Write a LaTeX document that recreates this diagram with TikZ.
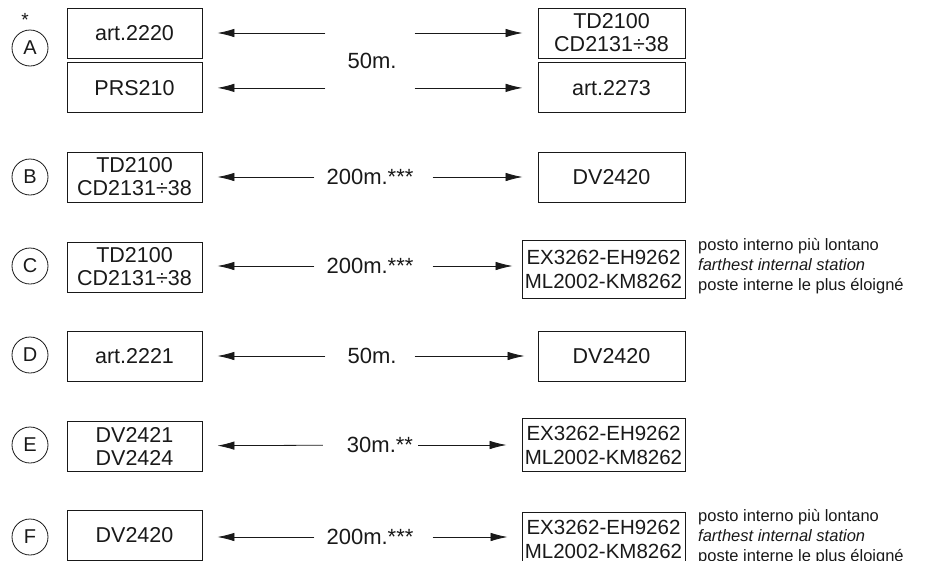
\documentclass[tikz,border=0pt]{standalone}
\usepackage{fontspec}
\setmainfont{Liberation Sans}
\usetikzlibrary{positioning,arrows.meta}
\definecolor{ink}{gray}{0.1}
\tikzset{
  box/.style={draw=ink, line width=0.9pt, text=ink, inner sep=0pt, align=center, minimum width=135pt, minimum height=50pt, font=\fontsize{21.5}{23}\selectfont},
  rbox/.style={box, minimum width=147pt},
  wbox/.style={box, minimum width=163pt, minimum height=58pt, font=\fontsize{20.5}{24}\selectfont},
  tag/.style={circle, draw=ink, line width=0.8pt, text=ink, minimum size=36pt, inner sep=0pt, font=\fontsize{20}{20}\selectfont},
  dist/.style={text=ink, inner sep=0pt, font=\fontsize{22}{22}\selectfont},
  arr/.style={draw=ink, line width=0.8pt, -{Latex[length=17pt,width=8.5pt]}},
  note/.style={anchor=west, align=left, text=ink, inner sep=0pt, font=\fontsize{16.5}{20}\selectfont}}
\begin{document}
\begin{tikzpicture}[x=1pt, y=-1pt]
\useasboundingbox (0,0) rectangle (929,560);
\clip (0,0) rectangle (929,560);
% A
\node[text=ink, font=\fontsize{19}{19}\selectfont] (star) at (25,20) {*};
\node[tag] (cA) at (30,48) {A};
\node[box] (lA1) at (134.5,33) {art.2220};
\node[box, below=4pt of lA1] (lA2) {PRS210};
\node[rbox] (rA1) at (611.5,33) {TD2100\\CD2131÷38};
\node[rbox, below=4pt of rA1] (rA2) {art.2273};
\node[dist] (dA) at (372,61) {50m.};
\draw[arr, shorten <=22pt, shorten >=15pt] (dA.west |- lA1.east) -- (lA1.east);
\draw[arr, shorten <=22pt, shorten >=15pt] (dA.west |- lA2.east) -- (lA2.east);
\draw[arr, shorten <=18pt, shorten >=15pt] (dA.east |- rA1.west) -- (rA1.west);
\draw[arr, shorten <=18pt, shorten >=15pt] (dA.east |- rA2.west) -- (rA2.west);
% B
\node[tag] (cB) at (30,177) {B};
\node[box] (lB) at (134.5,177) {TD2100\\CD2131÷38};
\node[rbox] (rB) at (611.5,177) {DV2420};
\node[dist] (dB) at (370,177) {200m.***};
\draw[arr, shorten <=12pt, shorten >=15pt] (dB) -- (lB);
\draw[arr, shorten <=19pt, shorten >=15pt] (dB) -- (rB);
% C
\node[tag] (cC) at (30,266) {C};
\node[box] (lC) at (134.5,267) {TD2100\\CD2131÷38};
\node[wbox] (rC) at (603.5,269) {EX3262-EH9262\\ML2002-KM8262};
\node[dist] (dC) at (370,266) {200m.***};
\draw[arr, shorten <=12pt, shorten >=15pt] (dC.west) -- (lC.east |- dC.west);
\draw[arr, shorten <=19pt, shorten >=9pt] (dC.east) -- (rC.west |- dC.east);
\node[note] (nC) at (698,266) {posto interno più lontano\\\textit{farthest internal station}\\poste interne le plus éloigné};
% D
\node[tag] (cD) at (30,355) {D};
\node[box] (lD) at (134.5,356) {art.2221};
\node[rbox] (rD) at (611.5,356) {DV2420};
\node[dist] (dD) at (372,356) {50m.};
\draw[arr, shorten <=22pt, shorten >=15pt] (dD) -- (lD);
\draw[arr, shorten <=18pt, shorten >=13pt] (dD) -- (rD);
% E
\node[tag] (cE) at (30,445) {E};
\node[box] (lE) at (134.5,446) {DV2421\\DV2424};
\node[wbox, minimum height=53pt] (rE) at (603.5,445) {EX3262-EH9262\\ML2002-KM8262};
\node[dist] (dE) at (380,445) {30m.**};
\draw[arr, shorten <=24pt, shorten >=15pt] (dE) -- (lE);
\draw[arr, shorten <=5pt, shorten >=15pt] (dE) -- (rE);
% F
\node[tag] (cF) at (30,537) {F};
\node[box] (lF) at (134.5,535) {DV2420};
\node[wbox, minimum height=54pt] (rF) at (603.5,539) {EX3262-EH9262\\ML2002-KM8262};
\node[dist] (dF) at (370,537) {200m.***};
\draw[arr, shorten <=12pt, shorten >=15pt] (dF.west) -- (lF.east |- dF.west);
\draw[arr, shorten <=19pt, shorten >=14pt] (dF.east) -- (rF.west |- dF.east);
\node[note] (nF) at (698,537) {posto interno più lontano\\\textit{farthest internal station}\\poste interne le plus éloigné};
\end{tikzpicture}
\end{document}
